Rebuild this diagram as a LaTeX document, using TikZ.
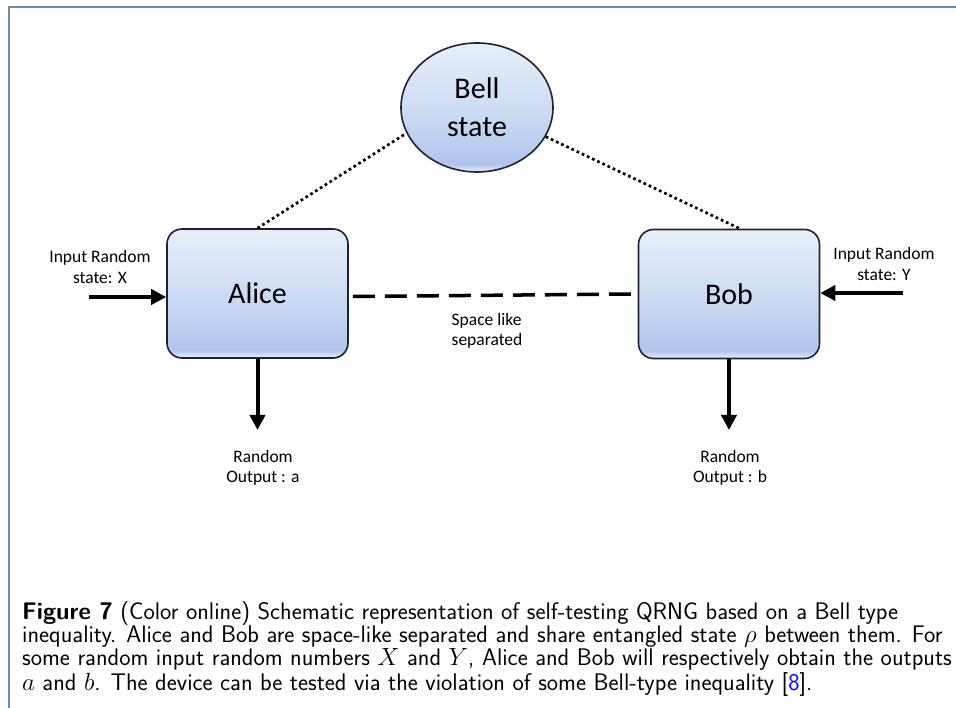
\documentclass[tikz,border=0pt]{standalone}
\usepackage{fontspec}
\newfontfamily\calfont{Carlito}
\usetikzlibrary{shapes.geometric, arrows.meta}
\definecolor{frameC}{RGB}{110,135,170}
\definecolor{edgeC}{RGB}{25,35,55}
\definecolor{shTop}{RGB}{232,239,250}
\definecolor{shMid}{RGB}{200,216,242}
\definecolor{shLow}{RGB}{176,196,236}
\definecolor{shBot}{RGB}{236,242,252}
\definecolor{citeC}{RGB}{0,0,255}
\pgfdeclareverticalshading{boxshade}{100bp}{color(0bp)=(shBot); color(25bp)=(shBot); color(28bp)=(shLow); color(45bp)=(shMid); color(75bp)=(shTop); color(100bp)=(shTop)}
\tikzset{
  boxnode/.style={draw=edgeC, line width=1.6pt, rounded corners=15pt, shade, shading=boxshade,
    minimum width=181pt, minimum height=129pt, inner sep=0pt, font=\calfont\fontsize{30}{36}\selectfont},
  bellnode/.style={ellipse, draw=edgeC, line width=1.6pt, shade, shading=boxshade,
    minimum width=152pt, minimum height=129pt, inner sep=0pt, align=center, font=\calfont\fontsize{30}{38}\selectfont},
  lbl/.style={align=center, inner sep=0pt, font=\calfont\fontsize{17.5}{20.5}\selectfont},
  arr/.style={line width=4pt, -{Triangle[length=15pt,width=15pt]}},
  dotline/.style={line width=2.7pt, dash pattern=on 2.7pt off 3pt},
  dashline/.style={line width=3.5pt, dash pattern=on 22pt off 10pt},
}
\begin{document}
\begin{tikzpicture}[x=1pt,y=-1pt]
\useasboundingbox (0,0) rectangle (956,708);
\fill[white] (0,0) rectangle (956,708);
\draw[frameC, line width=2pt] (9,708) -- (9,7) -- (956,7);

\node[bellnode] (bell) at (477,107.5) {Bell\\state};
\node[boxnode] (alice) at (257.5,293.5) {Alice};
\node[boxnode] (bob) at (729,294) {Bob};

\draw[dotline] (alice.north) -- (bell.200);
\draw[dotline] (bell.337) -- ([xshift=11pt]bob.north);
\draw[dashline] ([shift={(4,3)}]alice.east) -- ([xshift=-3pt]bob.west);

\node[lbl] (inX) at (100,267) {Input Random\\state: X};
\node[lbl] (inY) at (884,264) {Input Random\\state: Y};
\node[lbl, align=left] (sep) at (487,331) {Space like\\separated};
\node[lbl] (outA) at (263,468) {Random\\Output : a};
\node[lbl] (outB) at (730,468) {Random\\Output : b};

\coordinate (xs) at (89,297);
\coordinate (ys) at (903,293);
\coordinate (ae) at (257,430);
\coordinate (be) at (730,430);
\draw[arr] (xs) -- (alice.west |- xs);
\draw[arr] (ys) -- (bob.east |- ys);
\draw[arr] (alice.south) -- (alice.south |- ae);
\draw[arr] (bob.south) -- (bob.south |- be);

\node[anchor=north west, inner sep=0pt, font=\sffamily\fontsize{24}{21.8}\selectfont] (cap) at (22,601)
{\begin{tabular}{@{}l@{}}\textbf{Figure 7} (Color online) Schematic representation of self-testing QRNG based on a Bell type\\
inequality. Alice and Bob are space-like separated and share entangled state $\rho$ between them. For\\
some random input random numbers $X$ and $Y$, Alice and Bob will respectively obtain the outputs\\
$a$ and $b$. The device can be tested via the violation of some Bell-type inequality [{\color{citeC}8}].\end{tabular}};
\end{tikzpicture}
\end{document}
